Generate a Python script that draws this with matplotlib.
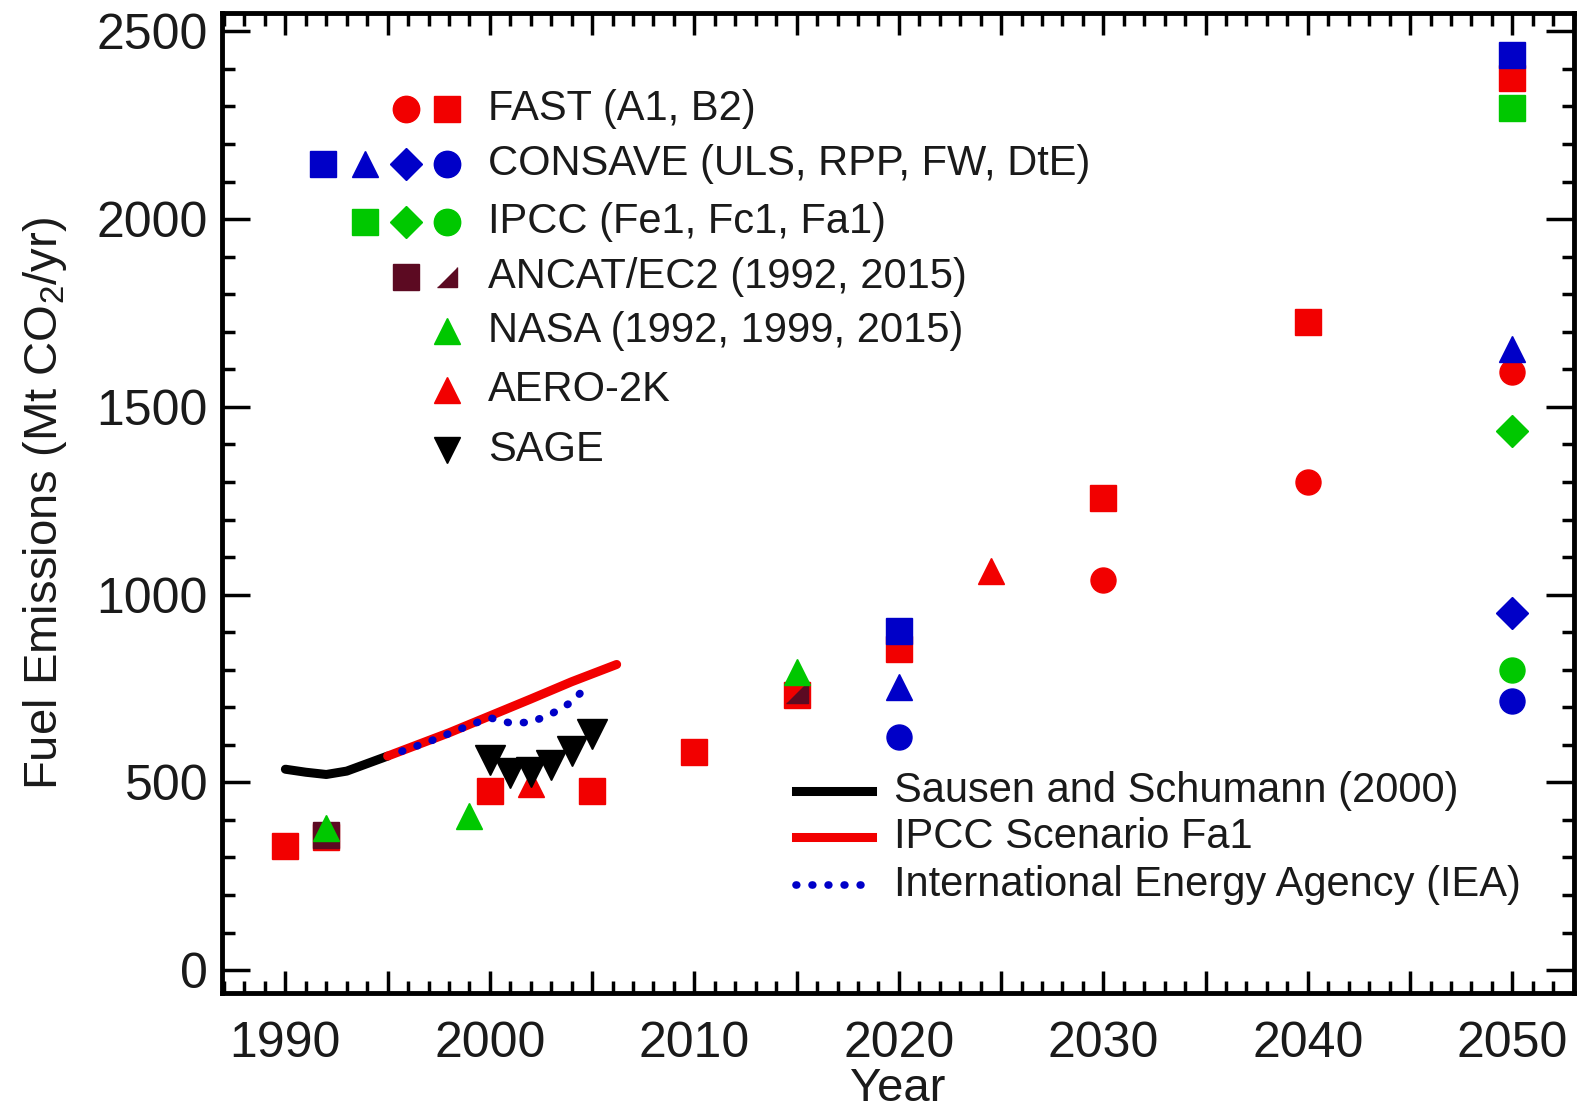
import matplotlib
matplotlib.use("Agg")
import matplotlib.pyplot as plt
from matplotlib.ticker import MultipleLocator, FuncFormatter

plt.rcParams['font.family'] = ['Liberation Sans', 'DejaVu Sans']
plt.rcParams['mathtext.fontset'] = 'custom'
plt.rcParams['mathtext.rm'] = 'Liberation Sans'

# colores
RED = '#f20000'
BLUE = '#0000c8'
GREEN = '#00c800'
MAROON = '#5c0a22'
HALF_TRI = [(-1, -1), (1, -1), (1, 1)]

# FAST (A1 circulos, B2 cuadrados)
fast_a1_years = [2030, 2040, 2050]
fast_a1_vals = [1038, 1301, 1593]
fast_b2_years = [1990, 1992, 2000, 2005, 2010, 2015, 2020, 2030, 2040, 2050]
fast_b2_vals = [330, 355, 478, 478, 582, 732, 856, 1258, 1725, 2375]

# CONSAVE (ULS, RPP, FW, DtE)
consave_uls_years = [2020, 2050]
consave_uls_vals = [904, 2436]
consave_rpp_years = [2020, 2050]
consave_rpp_vals = [754, 1655]
consave_fw_years = [2050]
consave_fw_vals = [952]
consave_dte_years = [2020, 2050]
consave_dte_vals = [622, 716]

# IPCC (Fe1, Fc1, Fa1)
ipcc_fe1_vals = [2296]
ipcc_fc1_vals = [1435]
ipcc_fa1_vals = [799]
ipcc_years = [2050]

# ANCAT/EC2
ancat_years = [1992]
ancat_vals = [360]
ancat15_years = [2015]
ancat15_vals = [742]

# NASA
nasa_years = [1992, 1999, 2015]
nasa_vals = [378, 410, 794]

# AERO-2K
aero_years = [2002, 2024.5]
aero_vals = [496, 1062]

# SAGE
sage_years = [2000, 2001, 2002, 2003, 2004, 2005]
sage_vals = [560, 525, 527, 545, 583, 628]

# lineas
sausen_years = [1990, 1991, 1992, 1993, 1994, 1995]
sausen_vals = [535, 527, 521, 530, 550, 570]
fa1_years = [1995, 1998, 2000, 2002, 2004, 2006.2]
fa1_vals = [570, 632, 677, 722, 768, 814]
iea_years = [1995.7, 1997, 1998, 1999, 2000, 2001, 2002, 2003, 2004, 2004.5]
iea_vals = [583, 608, 630, 652, 672, 658, 660, 682, 714, 742]

IEA_STYLE = dict(color=BLUE, lw=5.5, linestyle=(0, (0.1, 2.0)), dash_capstyle='round')

fig = plt.figure(figsize=(15.8, 11.14), dpi=100)
ax = fig.add_axes([0.1405, 0.1086, 0.8555, 0.8794])

# lineas
ax.plot(sausen_years, sausen_vals, color='black', lw=6.5, solid_capstyle='round', zorder=2)
ax.plot(fa1_years, fa1_vals, color=RED, lw=6.5, solid_capstyle='round', zorder=2)
ax.plot(iea_years, iea_vals, zorder=3, **IEA_STYLE)

# marcadores
ms = 19
ax.plot(fast_b2_years, fast_b2_vals, 's', color=RED, ms=ms, zorder=4)
ax.plot(fast_a1_years, fast_a1_vals, 'o', color=RED, ms=ms - 1, zorder=4)
ax.plot(consave_uls_years, consave_uls_vals, 's', color=BLUE, ms=ms, zorder=5)
ax.plot(consave_rpp_years, consave_rpp_vals, '^', color=BLUE, ms=ms, zorder=5)
ax.plot(consave_fw_years, consave_fw_vals, 'D', color=BLUE, ms=ms - 3, zorder=5)
ax.plot(consave_dte_years, consave_dte_vals, 'o', color=BLUE, ms=ms - 1, zorder=5)
ax.plot(ipcc_years, ipcc_fe1_vals, 's', color=GREEN, ms=ms, zorder=4)
ax.plot(ipcc_years, ipcc_fc1_vals, 'D', color=GREEN, ms=ms - 3, zorder=4)
ax.plot(ipcc_years, ipcc_fa1_vals, 'o', color=GREEN, ms=ms - 1, zorder=4)
ax.plot(ancat_years, ancat_vals, 's', color=MAROON, ms=ms, zorder=6)
ax.plot(ancat15_years, ancat15_vals, marker=HALF_TRI, ls='none', color=MAROON, ms=ms - 3, zorder=6)
ax.plot(nasa_years, nasa_vals, '^', color=GREEN, ms=ms, zorder=7)
ax.plot(aero_years, aero_vals, '^', color=RED, ms=ms, zorder=7)
ax.plot(sage_years, sage_vals, 'v', color='black', ms=ms + 2, zorder=7)

# leyenda de marcadores (arriba a la izquierda)
leg_rows = [
    ("FAST (A1, B2)", [('o', RED), ('s', RED)]),
    ("CONSAVE (ULS, RPP, FW, DtE)", [('s', BLUE), ('^', BLUE), ('D', BLUE), ('o', BLUE)]),
    ("IPCC (Fe1, Fc1, Fa1)", [('s', GREEN), ('D', GREEN), ('o', GREEN)]),
    ("ANCAT/EC2 (1992, 2015)", [('s', MAROON), (HALF_TRI, MAROON)]),
    ("NASA (1992, 1999, 2015)", [('^', GREEN)]),
    ("AERO-2K", [('^', RED)]),
    ("SAGE", [('v', 'black')]),
]
leg_y = [0.902, 0.846, 0.787, 0.731, 0.676, 0.616, 0.554]
for (label, marks), y in zip(leg_rows, leg_y):
    n = len(marks)
    for i, (mk, col) in enumerate(marks):
        x = 0.1667 - 0.0306 * (n - 1 - i)
        size = ms
        if mk == 'D':
            size = ms - 3
        elif isinstance(mk, list):
            size = ms - 5
        ax.plot([x], [y], marker=mk, color=col, ms=size, ls='none',
                transform=ax.transAxes, clip_on=False, zorder=8)
    ax.text(0.197, y, label, transform=ax.transAxes, fontsize=30,
            va='center', ha='left', color='#1a1a1a')

# leyenda de lineas (abajo a la derecha)
line_rows = [
    ("Sausen and Schumann (2000)", dict(color='black', lw=6.5)),
    ("IPCC Scenario Fa1", dict(color=RED, lw=6.5)),
    ("International Energy Agency (IEA)", IEA_STYLE),
]
line_y = [0.206, 0.159, 0.110]
for (label, style), y in zip(line_rows, line_y):
    ax.plot([0.425, 0.481], [y, y], transform=ax.transAxes, **style)
    ax.text(0.497, y, label, transform=ax.transAxes, fontsize=30,
            va='center', ha='left', color='#1a1a1a')

# ejes
ax.set_xlim(1986.9, 2053.0)
ax.set_ylim(-61, 2548)
ax.xaxis.set_major_locator(MultipleLocator(5))
ax.xaxis.set_minor_locator(MultipleLocator(1))
ax.xaxis.set_major_formatter(FuncFormatter(lambda v, p: "%d" % v if round(v) % 10 == 0 else ""))
ax.yaxis.set_major_locator(MultipleLocator(500))
ax.yaxis.set_minor_locator(MultipleLocator(100))
ax.tick_params(which='both', direction='in', top=True, right=True, width=2.5, labelsize=36,
               labelcolor='#1a1a1a')
ax.tick_params(axis='x', which='major', length=16, pad=20)
ax.tick_params(axis='y', which='major', length=20, pad=10)
ax.tick_params(which='minor', length=9)
for s in ax.spines.values():
    s.set_linewidth(3.5)

ax.set_xlabel("Year", fontsize=34, labelpad=0, color='#1a1a1a')
ax.set_ylabel("Fuel Emissions (Mt CO$_{\\mathrm{2}}$/yr)", fontsize=34, labelpad=20, color='#1a1a1a')

fig.savefig("out.png", dpi=100)
